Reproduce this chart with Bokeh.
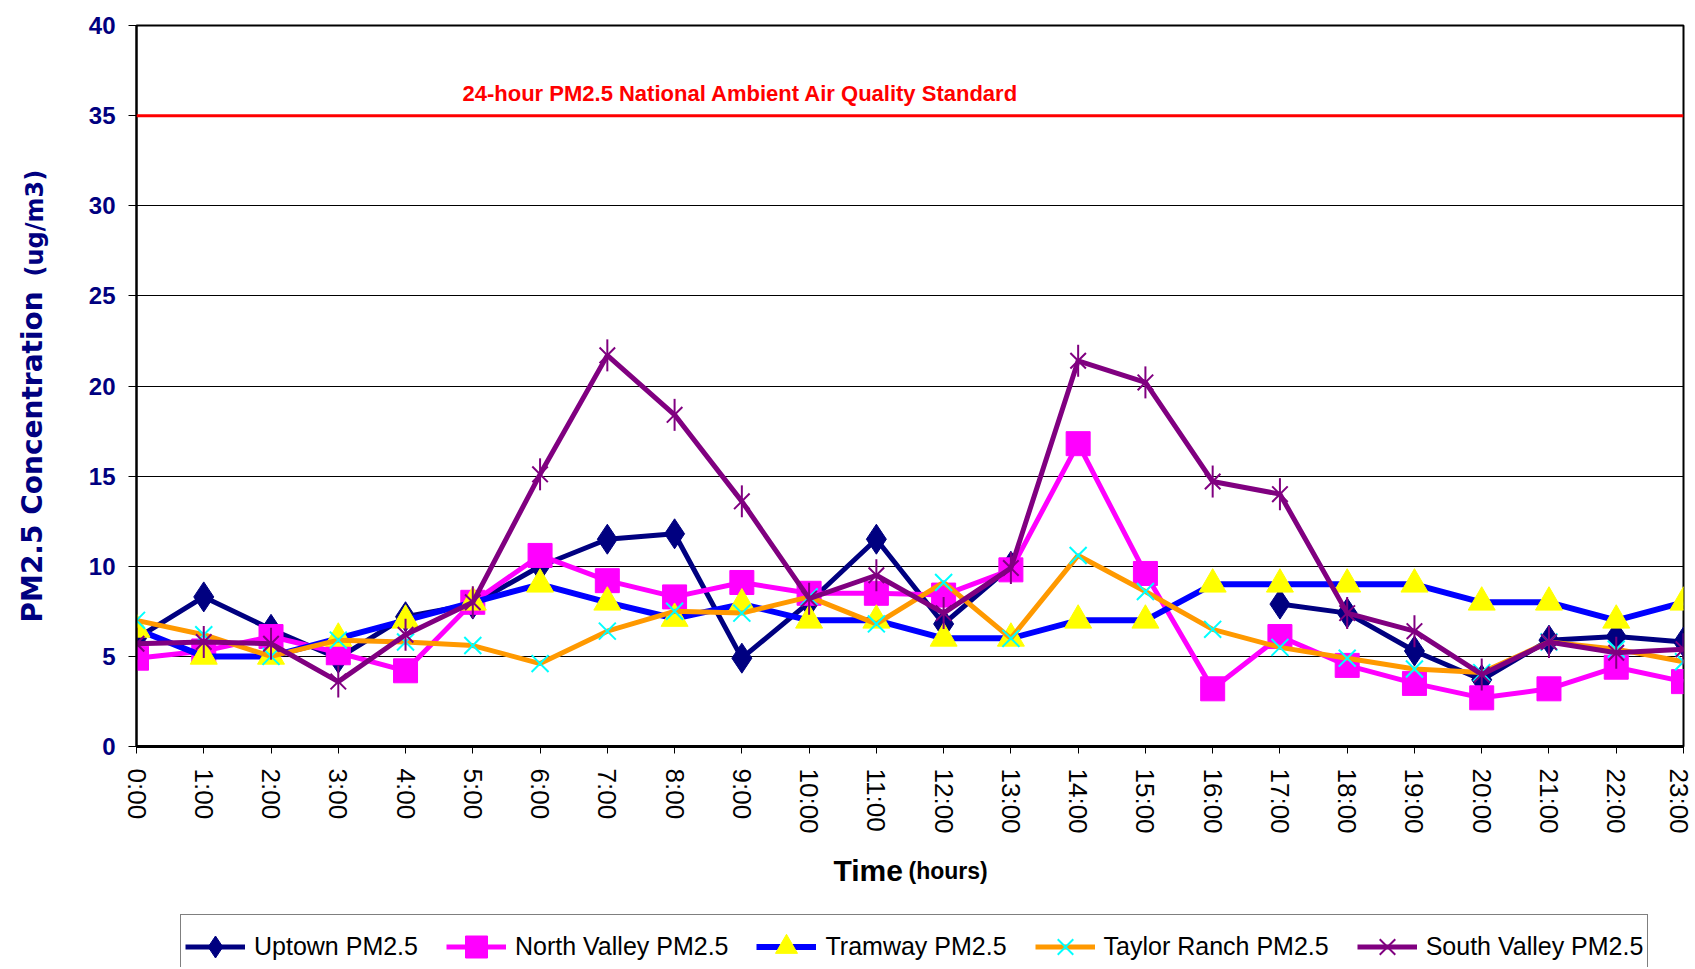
import math
import numpy as np
from bokeh.plotting import figure
from bokeh.layouts import row, column
from bokeh.models import FixedTicker, Span, Label, Legend, LegendItem
from bokeh.embed import file_html
from bokeh.resources import INLINE

# ---- data ----
hours = list(range(24))
hour_labels = [f"{h}:00" for h in hours]
uptown = [6.0, 8.3, 6.5, 4.9, 7.2, 7.9, 10.0, 11.5, 11.8, 4.9, 8.0, 11.5, 6.8, 10.0,
          None, None, None, 7.9, 7.4, 5.3, 3.7, 5.9, 6.1, 5.8]
north_valley = [4.9, 5.3, 6.1, 5.2, 4.2, 8.0, 10.6, 9.2, 8.3, 9.1, 8.5, 8.5, 8.4, 9.8,
                16.8, 9.6, 3.2, 6.1, 4.5, 3.5, 2.7, 3.2, 4.4, 3.6]
tramway = [6.5, 5.0, 5.0, 6.0, 7.0, 8.0, 9.0, 8.0, 7.1, 7.9, 7.0, 7.0, 6.0, 6.0,
           7.0, 7.0, 9.0, 9.0, 9.0, 9.0, 8.0, 8.0, 7.0, 8.0]
taylor_ranch = [7.0, 6.2, 5.0, 5.9, 5.8, 5.6, 4.6, 6.4, 7.5, 7.4, 8.3, 6.8, 9.1, 6.0,
                10.6, 8.6, 6.5, 5.5, 4.9, 4.3, 4.1, 5.8, 5.4, 4.7]
south_valley = [5.7, 5.8, 5.7, 3.6, 6.2, 8.0, 15.1, 21.7, 18.4, 13.6, 8.2, 9.5, 7.4, 9.9,
                21.4, 20.2, 14.7, 14.0, 7.4, 6.4, 4.0, 5.8, 5.2, 5.4]
y_ticks = [0, 5, 10, 15, 20, 25, 30, 35, 40]
standard_value = 35
standard_text = "24-hour PM2.5 National Ambient Air Quality Standard"
series_names = ["Uptown PM2.5", "North Valley PM2.5", "Tramway PM2.5",
                "Taylor Ranch PM2.5", "South Valley PM2.5"]


def arr(v):
    return np.array([np.nan if x is None else x for x in v], dtype=float)


NAVY = "#000080"
MAGENTA = "#FF00FF"
BLUE = "#0000FF"
YELLOW = "#FFFF00"
ORANGE = "#FF9900"
CYAN = "#00FFFF"
PURPLE = "#800080"
FONT = "Liberation Sans"

LEFT_W = 68
MAIN_W = 1625
BORDER_L = 68
BORDER_R = 10
TOTAL_H = 967
MAIN_H = 836
BOTTOM_H = TOTAL_H - MAIN_H

# series styles (used for plot and legend glyphs)
styles = [
    dict(line=dict(line_color=NAVY, line_width=5),
         marks=[dict(marker="diamond", size=30, fill_color=NAVY, line_color=NAVY)]),
    dict(line=dict(line_color=MAGENTA, line_width=5),
         marks=[dict(marker="square", size=24, fill_color=MAGENTA, line_color=MAGENTA)]),
    dict(line=dict(line_color=BLUE, line_width=6),
         marks=[dict(marker="triangle", size=27, fill_color=YELLOW, line_color=YELLOW)]),
    dict(line=dict(line_color=ORANGE, line_width=5),
         marks=[dict(marker="x", size=24, line_color=CYAN, line_width=2)]),
    dict(line=dict(line_color=PURPLE, line_width=5),
         marks=[dict(marker="x", size=22, line_color=PURPLE, line_width=2),
                dict(marker="dash", size=32, angle=math.pi / 2, line_color=PURPLE, line_width=2)]),
]
series_values = [uptown, north_valley, tramway, taylor_ranch, south_valley]

# ---------------- main chart ----------------
p = figure(width=MAIN_W, height=MAIN_H, x_range=(0, 23), y_range=(0, 40),
           output_backend="svg", toolbar_location=None,
           min_border_left=BORDER_L, min_border_right=BORDER_R, min_border_top=25,
           min_border_bottom=90)
p.background_fill_color = "white"
p.border_fill_color = "white"
p.outline_line_color = "black"
p.outline_line_width = 2

p.xgrid.visible = False
p.ygrid.grid_line_color = "black"
p.ygrid.grid_line_width = 1
p.ygrid.ticker = FixedTicker(ticks=y_ticks)

p.xaxis.ticker = FixedTicker(ticks=hours)
p.xaxis.major_label_overrides = {h: lab for h, lab in zip(hours, hour_labels)}
p.xaxis.major_label_orientation = -math.pi / 2
p.xaxis.major_label_text_font = FONT
p.xaxis.major_label_text_font_size = "26px"
p.xaxis.major_label_text_color = "black"
p.xaxis.major_tick_out = 7
p.xaxis.major_tick_in = 0
p.xaxis.minor_tick_out = 0
p.xaxis.minor_tick_in = 0
p.xaxis.axis_line_width = 3
p.xaxis.axis_line_color = "black"
p.xaxis.major_label_standoff = 15

p.yaxis.ticker = FixedTicker(ticks=y_ticks)
p.yaxis.major_label_text_font = FONT
p.yaxis.major_label_text_font_style = "bold"
p.yaxis.major_label_text_font_size = "24px"
p.yaxis.major_label_text_color = NAVY
p.yaxis.major_tick_out = 8
p.yaxis.major_tick_in = 0
p.yaxis.minor_tick_out = 0
p.yaxis.minor_tick_in = 0
p.yaxis.axis_line_width = 2
p.yaxis.axis_line_color = "black"
p.yaxis.major_label_standoff = 13

p.add_layout(Span(location=standard_value, dimension="width", line_color="red", line_width=3))
p.add_layout(Label(x=326, y=653, x_units="screen", y_units="screen", text=standard_text,
                   text_color="red", text_font=FONT, text_font_style="bold",
                   text_font_size="22px", text_baseline="alphabetic", text_align="left"))

for vals, st in zip(series_values, styles):
    y = arr(vals)
    p.line(hours, y, **st["line"])
    for mk in st["marks"]:
        p.scatter(hours, y, **mk)

# ---------------- left strip: y-axis title ----------------
lf = figure(width=LEFT_W, height=TOTAL_H, x_range=(0, 1), y_range=(0, 1),
            output_backend="svg", toolbar_location=None,
            x_axis_location=None, y_axis_location=None, min_border=0)
lf.outline_line_color = None
lf.grid.visible = False
lf.add_layout(Label(x=32, y=TOTAL_H - 622, x_units="screen", y_units="screen",
                    text="PM2.5 Concentration",
                    angle=math.pi / 2, text_align="left", text_baseline="middle",
                    text_font="DejaVu Sans", text_font_style="bold", text_font_size="28px",
                    text_color=NAVY))
lf.add_layout(Label(x=34, y=TOTAL_H - 276, x_units="screen", y_units="screen", text="(ug/m3)",
                    angle=math.pi / 2, text_align="left", text_baseline="middle",
                    text_font="DejaVu Sans", text_font_style="bold", text_font_size="24px",
                    text_color=NAVY))

# ---------------- bottom strip: x-axis title and legend ----------------
bf = figure(width=MAIN_W, height=BOTTOM_H, x_range=(0, 1), y_range=(0, 1),
            output_backend="svg", toolbar_location=None,
            x_axis_location=None, y_axis_location=None,
            min_border_left=BORDER_L, min_border_right=BORDER_R,
            min_border_top=0, min_border_bottom=0)
bf.outline_line_color = None
bf.grid.visible = False
bf.add_layout(Label(x=697, y=BOTTOM_H - 34, x_units="screen", y_units="screen", text="Time",
                    text_align="left", text_baseline="alphabetic",
                    text_font=FONT, text_font_style="bold", text_font_size="30px",
                    text_color="black"))
bf.add_layout(Label(x=772, y=BOTTOM_H - 34, x_units="screen", y_units="screen", text="(hours)",
                    text_align="left", text_baseline="alphabetic",
                    text_font=FONT, text_font_style="bold", text_font_size="23px",
                    text_color="black"))

# legend glyph renderers (a single empty point each, nothing visible in the strip)
items = []
for name, st in zip(series_names, styles):
    rs = [bf.line([np.nan], [np.nan], **st["line"])]
    for mk in st["marks"]:
        rs.append(bf.scatter([np.nan], [np.nan], **mk))
    items.append(LegendItem(label=name, renderers=rs))

legend = Legend(items=items, orientation="horizontal", location=(44, -12),
                glyph_width=60, glyph_height=55, label_standoff=9, spacing=28,
                padding=4, margin=0, label_height=55,
                border_line_color="black", border_line_width=1, background_fill_alpha=1.0,
                label_text_font=FONT, label_text_font_size="25px",
                label_text_color="black", label_text_baseline="middle")
bf.add_layout(legend, "center")

layout = row(lf, column(p, bf, spacing=0), spacing=0)

open("out.html", "w").write(file_html(layout, INLINE))
